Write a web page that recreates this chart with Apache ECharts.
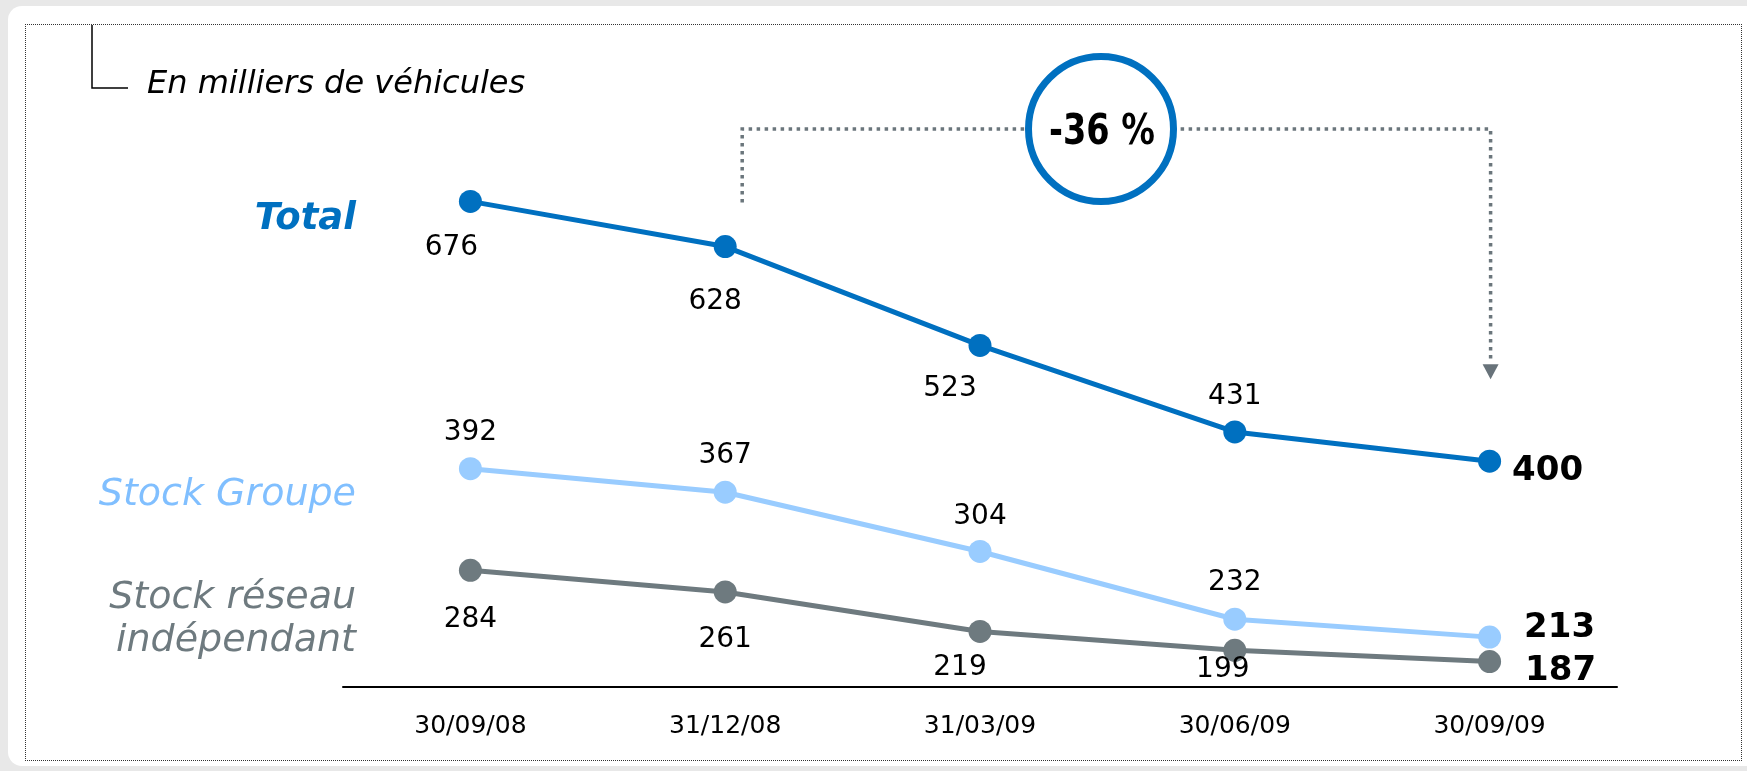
<!DOCTYPE html>
<html>
<head>
<meta charset="utf-8">
<script src="https://cdn.jsdelivr.net/npm/echarts@6/dist/echarts.min.js"></script>
<style>
  html, body { margin: 0; padding: 0; width: 1747px; height: 771px; overflow: hidden; background: #e8e8e8; }
  #panel { position: absolute; left: 8px; top: 6px; width: 1760px; height: 760px; background: #fff; border-radius: 14px; }
  #frame { position: absolute; left: 25px; top: 24px; width: 1717px; height: 737px; border: 1px dotted #333; box-sizing: border-box; }
  #chart { position: absolute; left: 0; top: 0; width: 1747px; height: 771px; }
</style>
</head>
<body>
<div id="panel"></div>
<div id="frame"></div>
<div id="chart"></div>
<script>
// ---- data ----
const categories = ['30/09/08', '31/12/08', '31/03/09', '30/06/09', '30/09/09'];
const seriesNames = ['Total', 'Stock Groupe', 'Stock réseau indépendant'];
const totalValues = [676, 628, 523, 431, 400];
const groupeValues = [392, 367, 304, 232, 213];
const reseauValues = [284, 261, 219, 199, 187];
const unitText = 'En milliers de véhicules';

// ---- styling / label placement (not data) ----
const colors = ['#0070c0', '#99ccff', '#6e7a7f'];
const nameColors = ['#0070c0', '#80bfff', '#6e7a7f'];
const totalOffsets = [[-19, 46], [-10, 55], [-30, 43], [0, -35], [58, 10]];
const groupeOffsets = [[0, -36], [0, -36], [0, -35], [0, -37], [70, -9]];
const reseauOffsets = [[0, 49], [0, 48], [-20, 36], [-12, 19], [71, 10]];

function buildData(values, offsets) {
  return values.map((v, i) => {
    const last = i === values.length - 1;
    return {
      value: v,
      label: {
        offset: offsets[i],
        fontSize: last ? 34 : 28,
        fontWeight: last ? 'bold' : 'normal'
      }
    };
  });
}

function makeSeries(name, values, offsets, color) {
  return {
    name: name,
    type: 'line',
    data: buildData(values, offsets),
    symbol: 'circle',
    symbolSize: 23,
    lineStyle: { color: color, width: 5 },
    itemStyle: { color: color },
    label: {
      show: true,
      position: 'inside',
      align: 'center',
      verticalAlign: 'middle',
      color: '#000',
      fontFamily: 'DejaVu Sans, Verdana, sans-serif'
    },
    z: 3,
    animation: false
  };
}

const chart = echarts.init(document.getElementById('chart'), null, { renderer: 'canvas' });

const option = {
  backgroundColor: 'transparent',
  animation: false,
  grid: { left: 343, right: 130, top: 160, bottom: 84 },
  xAxis: {
    type: 'category',
    data: categories,
    boundaryGap: true,
    axisLine: { show: true, lineStyle: { color: '#000', width: 2 } },
    axisTick: { show: false },
    axisLabel: { color: '#000', fontSize: 25, margin: 27, fontFamily: 'DejaVu Sans, Verdana, sans-serif' },
    splitLine: { show: false }
  },
  yAxis: {
    type: 'value',
    min: 160,
    max: 720,
    show: false
  },
  series: [
    makeSeries(seriesNames[0], totalValues, totalOffsets, colors[0]),
    makeSeries(seriesNames[1], groupeValues, groupeOffsets, colors[1]),
    makeSeries(seriesNames[2], reseauValues, reseauOffsets, colors[2])
  ]
};
chart.setOption(option);

// ---- annotations ----
const startIdx = 1, endIdx = categories.length - 1;
const pct = Math.round((totalValues[endIdx] - totalValues[startIdx]) / totalValues[startIdx] * 100);
const pStart = chart.convertToPixel({ seriesIndex: 0 }, [startIdx, totalValues[startIdx]]);
const pEnd = chart.convertToPixel({ seriesIndex: 0 }, [endIdx, totalValues[endIdx]]);
const bracketY = 129;
const xL = pStart[0] + 17;
const xR = pEnd[0] + 1;
const dotStyle = { stroke: '#6b767c', lineWidth: 3.5, lineDash: [3.5, 4.5], fill: null };
const nameFont = 'DejaVu Sans, Verdana, sans-serif';

chart.setOption({
  graphic: [
    // top-left unit bracket
    { type: 'polyline', shape: { points: [[92, 25], [92, 88], [128, 88]] }, style: { stroke: '#000', lineWidth: 1.5, fill: null }, silent: true },
    { type: 'text', x: 147, y: 85, style: { text: unitText, font: 'italic 32px ' + nameFont, fill: '#000', textVerticalAlign: 'middle' }, silent: true },
    // series names
    { type: 'text', x: 356, y: 219, style: { text: seriesNames[0], font: 'italic bold 37px ' + nameFont, fill: nameColors[0], textAlign: 'right', textVerticalAlign: 'middle' }, silent: true },
    { type: 'text', x: 356, y: 495, style: { text: seriesNames[1], font: 'italic 38px ' + nameFont, fill: nameColors[1], textAlign: 'right', textVerticalAlign: 'middle' }, silent: true },
    { type: 'text', x: 356, y: 598, style: { text: 'Stock réseau', font: 'italic 38px ' + nameFont, fill: nameColors[2], textAlign: 'right', textVerticalAlign: 'middle' }, silent: true },
    { type: 'text', x: 356, y: 641, style: { text: 'indépendant', font: 'italic 38px ' + nameFont, fill: nameColors[2], textAlign: 'right', textVerticalAlign: 'middle' }, silent: true },
    // dotted bracket
    { type: 'polyline', shape: { points: [[xL, pStart[1] - 44], [xL, bracketY], [xR, bracketY], [xR, pEnd[1] - 102]] }, style: dotStyle, silent: true, z: 10 },
    { type: 'polygon', shape: { points: [[xR - 8, pEnd[1] - 97], [xR + 8, pEnd[1] - 97], [xR, pEnd[1] - 82]] }, style: { fill: '#68737a' }, silent: true, z: 10 },
    // circle with percentage
    { type: 'circle', shape: { cx: 1101, cy: 129, r: 72.5 }, style: { fill: '#fff', stroke: '#0070c0', lineWidth: 7 }, silent: true, z: 11 },
    { type: 'text', x: 1102, y: 133, scaleX: 0.8, style: { text: pct + ' %', font: 'bold 42px "DejaVu Sans", sans-serif', fill: '#000', textAlign: 'center', textVerticalAlign: 'middle' }, silent: true, z: 12 }
  ]
});
</script>
</body>
</html>
